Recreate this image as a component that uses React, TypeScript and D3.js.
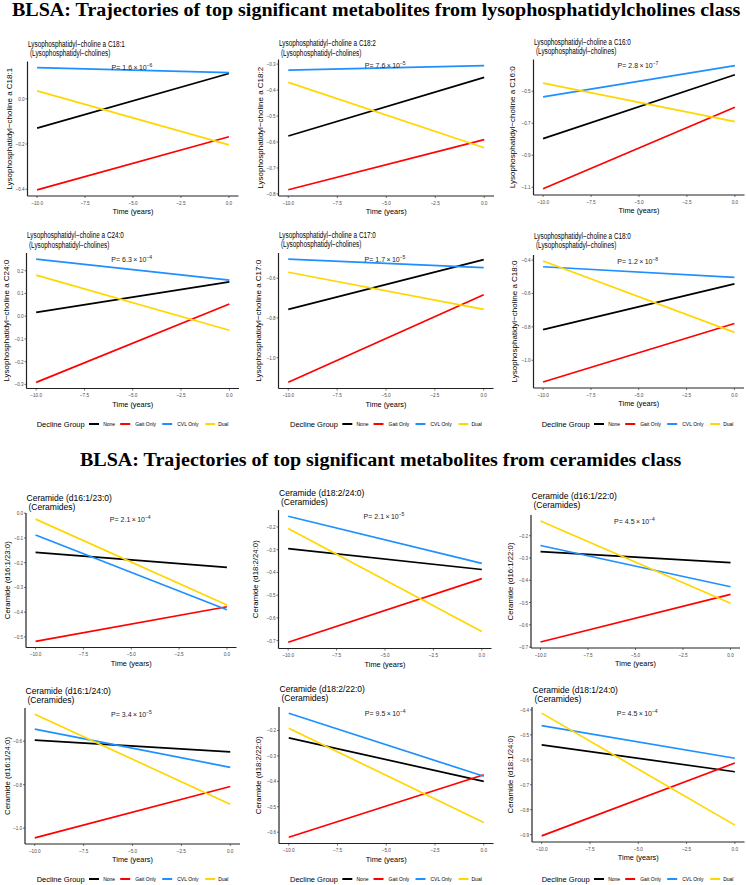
import React from "react";
import * as d3 from "d3";

// ---------- data ----------
const groups = ["None", "Gait Only", "CVL Only", "Dual"];
const timePoints = [-10, 0];
const xTicks = [-10, -7.5, -5, -2.5, 0];

const sectionTitles = [
  "BLSA: Trajectories of top significant metabolites from lysophosphatidylcholines class",
  "BLSA: Trajectories of top significant metabolites from ceramides class",
];

const metaboliteNames = [
  "Lysophosphatidyl−choline a C18:1",
  "Lysophosphatidyl−choline a C18:2",
  "Lysophosphatidyl−choline a C16:0",
  "Lysophosphatidyl−choline a C24:0",
  "Lysophosphatidyl−choline a C17:0",
  "Lysophosphatidyl−choline a C18:0",
  "Ceramide (d16:1/23:0)",
  "Ceramide (d18:2/24:0)",
  "Ceramide (d16:1/22:0)",
  "Ceramide (d16:1/24:0)",
  "Ceramide (d18:2/22:0)",
  "Ceramide (d18:1/24:0)",
];
const metaboliteClasses = [
  "(Lysophosphatidyl−cholines)", "(Lysophosphatidyl−cholines)", "(Lysophosphatidyl−cholines)",
  "(Lysophosphatidyl−cholines)", "(Lysophosphatidyl−cholines)", "(Lysophosphatidyl−cholines)",
  "(Ceramides)", "(Ceramides)", "(Ceramides)", "(Ceramides)", "(Ceramides)", "(Ceramides)",
];
const pMantissa = ["1.6", "7.6", "2.8", "6.3", "1.7", "1.2", "2.1", "2.1", "4.5", "3.4", "9.5", "4.5"];
const pExponent = [-6, -5, -7, -4, -5, -8, -4, -5, -4, -5, -4, -4];

// [value at -10, value at 0] for each panel
const noneValues = [
  [-0.13, 0.112], [-0.577, -0.351], [-0.796, -0.397], [0.017, 0.151], [-0.757, -0.506], [-0.817, -0.543],
  [-0.158, -0.219], [-0.295, -0.387], [-0.271, -0.321], [-0.595, -0.649], [-0.229, -0.4], [-0.54, -0.648],
];
const gaitValues = [
  [-0.403, -0.168], [-0.784, -0.591], [-1.11, -0.6], [-0.291, 0.054], [-1.124, -0.683], [-1.13, -0.78],
  [-0.518, -0.378], [-0.707, -0.427], [-0.677, -0.463], [-1.044, -0.808], [-0.62, -0.374], [-0.905, -0.613],
];
const cvlValues = [
  [0.138, 0.116], [-0.323, -0.306], [-0.535, -0.34], [0.251, 0.159], [-0.504, -0.547], [-0.44, -0.504],
  [-0.088, -0.39], [-0.153, -0.36], [-0.244, -0.429], [-0.545, -0.72], [-0.132, -0.38], [-0.463, -0.594],
];
const dualValues = [
  [0.035, -0.204], [-0.37, -0.622], [-0.449, -0.69], [0.181, -0.062], [-0.57, -0.757], [-0.406, -0.833],
  [-0.024, -0.371], [-0.207, -0.66], [-0.134, -0.503], [-0.476, -0.89], [-0.191, -0.562], [-0.413, -0.862],
];
const seriesValues = [noneValues, gaitValues, cvlValues, dualValues];

const yTicks = [
  [0, -0.2, -0.4],
  [-0.3, -0.4, -0.5, -0.6, -0.7, -0.8],
  [-0.5, -0.7, -0.9, -1.1],
  [0.2, 0.1, 0, -0.1, -0.2, -0.3],
  [-0.6, -0.8, -1.0],
  [-0.4, -0.6, -0.8, -1.0],
  [0, -0.1, -0.2, -0.3, -0.4, -0.5],
  [-0.2, -0.3, -0.4, -0.5, -0.6, -0.7],
  [-0.2, -0.3, -0.4, -0.5, -0.6, -0.7],
  [-0.6, -0.8, -1.0],
  [-0.2, -0.3, -0.4, -0.5, -0.6],
  [-0.4, -0.5, -0.6, -0.7, -0.8, -0.9],
];

// ---------- layout & style ----------
const groupColors = ["#000000", "#FF0000", "#1E90FF", "#FFD700"];
const panelLeft = [27.5, 278.5, 533.5, 26.5, 278.5, 533.5, 26, 278.5, 531, 25, 279, 532];
const panelRight = [238.5, 494, 744.5, 239, 493.5, 744, 236.5, 491.5, 740, 240, 493.5, 744.5];
const panelTop = [61.5, 59.5, 59.5, 253, 253, 255, 513, 510, 515, 708, 707, 707];
const panelBottom = [196, 196, 195, 388.5, 388.5, 388, 647.5, 648.5, 648, 844, 843.5, 842];
const yTitleX = [9, 260, 512, 6, 258.5, 514, 7.5, 255, 510, 7, 258.5, 510];
const titleY = [46.5, 46.3, 44.7, 238.3, 237.5, 239, 500.5, 495.5, 499, 694, 691.5, 692.5];
const legendX = [36.7, 290, 541.7];
const legendY = [424, 879];
const legendKeyOffset = [52.3, 83.5, 125.5, 168.5];
const legendLabelOffset = [66.5, 98.5, 140.5, 181.5];

const SANS = "'Liberation Sans', Arial, Helvetica, sans-serif";
const SERIF = "'Liberation Serif', 'Times New Roman', serif";
const fmt = d3.format(".1f");

function SText({ x, y, sx = 1, anchor = "start", size, fill = "#000", children, rotate = 0 }: any) {
  return (
    <text
      transform={`translate(${x},${y}) rotate(${rotate}) scale(${sx},1)`}
      textAnchor={anchor}
      fontSize={size}
      fill={fill}
      fontFamily={SANS}
    >
      {children}
    </text>
  );
}

function Panel({ i }: { i: number }) {
  const L = panelLeft[i], R = panelRight[i], T = panelTop[i], B = panelBottom[i];
  const isLpc = i < 6;
  const x = d3.scaleLinear().domain([-10.5, 0.5]).range([L, R]);
  const all = seriesValues.flatMap((s) => s[i]);
  const [mn, mx] = d3.extent(all) as [number, number];
  const pad = (mx - mn) * 0.05;
  const y = d3.scaleLinear().domain([mn - pad, mx + pad]).range([B, T]);
  const line = d3
    .line<[number, number]>()
    .x((d) => x(d[0]))
    .y((d) => y(d[1]));
  const tickFill = "#4d4d4d";
  const cx = (L + R) / 2;
  const cy = (T + B) / 2;
  return (
    <g>
      {/* title */}
      <SText x={L + 0.5} y={titleY[i]} size={isLpc ? 8.5 : 9} sx={isLpc ? 0.75 : 0.95}>
        {metaboliteNames[i]}
      </SText>
      <SText x={L + 2.5} y={titleY[i] + 9.3} size={isLpc ? 8.5 : 9} sx={isLpc ? 0.75 : 0.95}>
        {metaboliteClasses[i]}
      </SText>
      {/* lines */}
      {seriesValues.map((s, g) => (
        <path
          key={g}
          d={line(timePoints.map((t, k) => [t, s[i][k]] as [number, number])) || ""}
          fill="none"
          stroke={groupColors[g]}
          strokeWidth={1.7}
        />
      ))}
      {/* p value */}
      <text x={x(-5) - 1} y={T + 8.8} textAnchor="middle" fontSize={7} fontFamily={SANS} fill="#1a1a1a">
        {`P= ${pMantissa[i]}\u2009×\u200910`}
        <tspan dy={-3} fontSize={5}>{`−${Math.abs(pExponent[i])}`}</tspan>
      </text>
      {/* axes */}
      <line x1={L} x2={L} y1={T} y2={B} stroke="#222" strokeWidth={1.2} />
      <line x1={L} x2={R} y1={B} y2={B} stroke="#222" strokeWidth={1.2} />
      {yTicks[i].map((v) => (
        <g key={v}>
          <line x1={L - 2} x2={L} y1={y(v)} y2={y(v)} stroke="#333" strokeWidth={0.7} />
          <SText x={L - 2.8} y={y(v) + 2} anchor="end" size={5.8} sx={0.8} fill={tickFill}>
            {fmt(v)}
          </SText>
        </g>
      ))}
      {xTicks.map((v) => (
        <g key={v}>
          <line x1={x(v)} x2={x(v)} y1={B} y2={B + 2} stroke="#333" strokeWidth={0.7} />
          <SText x={x(v)} y={B + 8.8} anchor="middle" size={5.8} sx={0.8} fill={tickFill}>
            {fmt(v)}
          </SText>
        </g>
      ))}
      <SText x={cx} y={B + 18} anchor="middle" size={8} sx={0.92}>
        Time (years)
      </SText>
      <SText x={yTitleX[i] + 2.8} y={cy} anchor="middle" size={isLpc ? 8 : 7.8} rotate={-90}>
        {metaboliteNames[i]}
      </SText>
    </g>
  );
}

function Legend({ x0, y0 }: { x0: number; y0: number }) {
  return (
    <g>
      <SText x={x0} y={y0 + 2.6} size={7.5}>
        Decline Group
      </SText>
      {groups.map((g, k) => (
        <g key={g}>
          <line
            x1={x0 + legendKeyOffset[k]}
            x2={x0 + legendKeyOffset[k] + 10}
            y1={y0}
            y2={y0}
            stroke={groupColors[k]}
            strokeWidth={2}
          />
          <SText x={x0 + legendLabelOffset[k]} y={y0 + 1.8} size={5}>
            {g}
          </SText>
        </g>
      ))}
    </g>
  );
}

export default function App() {
  const W = 746, H = 885;
  return (
    <svg
      width={W}
      height={H}
      viewBox={`0 0 ${W} ${H}`}
      style={{ position: "absolute", left: 0, top: 0, background: "#fff" }}
    >
      <rect width={W} height={H} fill="#fff" />
      <text
        transform="translate(12,16.3) scale(1.1,1)"
        fontFamily={SERIF}
        fontWeight="bold"
        fontSize={18.2}
        fill="#000"
      >
        {sectionTitles[0]}
      </text>
      <text
        transform="translate(80,466) scale(1.1,1)"
        fontFamily={SERIF}
        fontWeight="bold"
        fontSize={18.2}
        fill="#000"
      >
        {sectionTitles[1]}
      </text>
      {metaboliteNames.map((_, i) => (
        <Panel key={i} i={i} />
      ))}
      {legendY.map((ly) => legendX.map((lx) => <Legend key={`${lx}-${ly}`} x0={lx} y0={ly} />))}
    </svg>
  );
}
